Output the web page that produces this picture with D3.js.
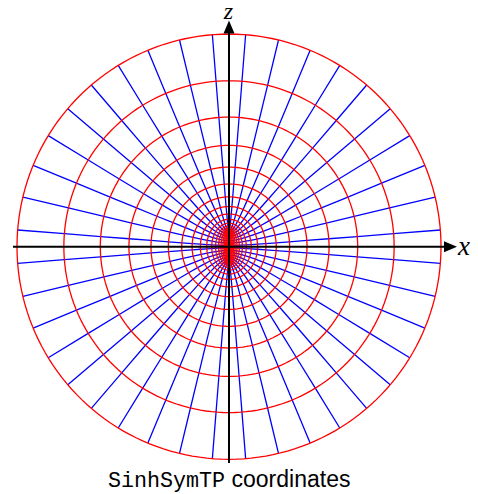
<!DOCTYPE html>
<html>
<head>
<meta charset="utf-8">
<script src="https://cdn.jsdelivr.net/npm/d3@7"></script>
<style>
  html, body { margin: 0; padding: 0; background: #fff; }
  svg { display: block; }
</style>
</head>
<body>
<svg id="vis" width="478" height="494"></svg>
<script>
// SinhSymTP grid in the xz-plane: x = A sin(theta), z = sqrt(A^2 + b^2) cos(theta)
var bScale = 0.75;

// radial levels A (constant-A curves, red)
var radialLevels = [10, 7.79, 6.07, 4.72, 3.68, 2.86, 2.23, 1.74, 1.35, 1.05,
  0.815, 0.632, 0.489, 0.376, 0.287, 0.216, 0.158, 0.111, 0.070, 0.034];

// polar angles theta in degrees (constant-theta curves, blue), drawn for x > 0 and x < 0
var thetaDeg = [4.5, 13.5, 22.5, 31.5, 40.5, 49.5, 58.5, 67.5, 76.5, 85.5,
  94.5, 103.5, 112.5, 121.5, 130.5, 139.5, 148.5, 157.5, 166.5, 175.5];

var axisLabels = ['x', 'z'];
var titleMono = 'SinhSymTP';
var titleSans = 'coordinates';

var svg = d3.select('#vis');
var cx = 229, cy = 246.7, R = 212;

var x = d3.scaleLinear().domain([-10, 10]).range([cx - R, cx + R]);
var z = d3.scaleLinear().domain([-10, 10]).range([cy + R, cy - R]);

function toXZ(A, th, side) {
  return [side * A * Math.sin(th), Math.sqrt(A * A + bScale * bScale) * Math.cos(th)];
}

var line = d3.line()
  .x(function(d) { return x(d[0]); })
  .y(function(d) { return z(d[1]); });

// Blue: constant theta, sampled along the radial levels
var aSamples = [0].concat(radialLevels.slice().reverse());
var g = svg.append('g');

[1, -1].forEach(function(side) {
  g.selectAll(null)
    .data(thetaDeg)
    .enter().append('path')
    .attr('fill', 'none')
    .attr('stroke', '#0000ff')
    .attr('stroke-width', 1.3)
    .attr('d', function(t) {
      var th = t * Math.PI / 180;
      return line(aSamples.map(function(A) { return toXZ(A, th, side); }));
    });
});

// Red: constant A
var angles = d3.range(0, 361, 2).map(function(a) { return a * Math.PI / 180; });
g.selectAll(null)
  .data(radialLevels)
  .enter().append('path')
  .attr('fill', 'none')
  .attr('stroke', '#ff0000')
  .attr('stroke-width', 1.3)
  .attr('d', function(A) {
    return line(angles.map(function(th) { return toXZ(A, th, 1); })) + 'Z';
  });

// Axes with arrows
var ax = svg.append('g');
ax.append('line')
  .attr('x1', 13).attr('x2', 446)
  .attr('y1', cy).attr('y2', cy)
  .attr('stroke', '#000').attr('stroke-width', 2);
ax.append('path')
  .attr('d', 'M' + 457 + ',' + cy + 'L' + 444 + ',' + (cy - 5.5) + 'L' + 444 + ',' + (cy + 5.5) + 'Z')
  .attr('fill', '#000');

ax.append('line')
  .attr('x1', cx).attr('x2', cx)
  .attr('y1', 463).attr('y2', 32)
  .attr('stroke', '#000').attr('stroke-width', 2);
ax.append('path')
  .attr('d', 'M' + cx + ',' + 20.5 + 'L' + (cx - 5.5) + ',' + 33.5 + 'L' + (cx + 5.5) + ',' + 33.5 + 'Z')
  .attr('fill', '#000');

ax.append('text')
  .attr('x', 458).attr('y', 255)
  .style('font-family', '"Liberation Serif", serif')
  .style('font-style', 'italic')
  .style('font-size', '27px')
  .text(axisLabels[0]);

ax.append('text')
  .attr('x', 228.5).attr('y', 19)
  .attr('text-anchor', 'middle')
  .style('font-family', '"Liberation Serif", serif')
  .style('font-style', 'italic')
  .style('font-size', '24px')
  .text(axisLabels[1]);

// Title
var title = svg.append('text')
  .attr('x', 108).attr('y', 487);
title.append('tspan')
  .style('font-family', '"Liberation Mono", monospace')
  .style('font-size', '21.7px')
  .text(titleMono);
title.append('tspan')
  .style('font-family', '"Liberation Sans", sans-serif')
  .style('font-size', '23px')
  .text(' ' + titleSans);
</script>
</body>
</html>
